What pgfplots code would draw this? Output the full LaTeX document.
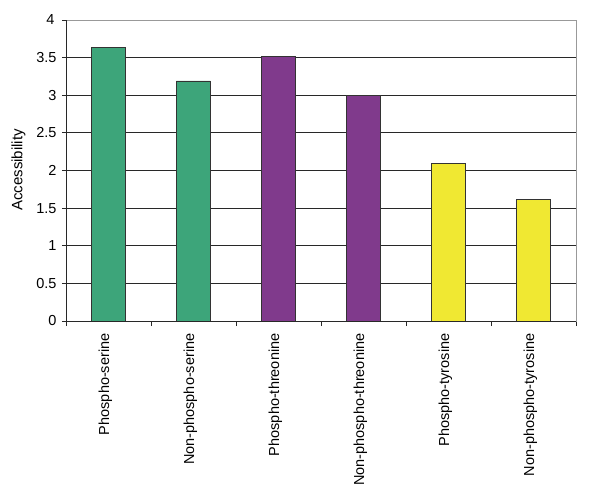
\documentclass[border=0pt]{standalone}
\usepackage{pgfplots}
\pgfplotsset{compat=1.18}
\usepackage{fontspec}
\setmainfont{Liberation Sans}
\definecolor{cgreen}{RGB}{61,165,122}
\definecolor{cpurple}{RGB}{128,58,140}
\definecolor{cyellow}{RGB}{240,232,50}
\definecolor{gridc}{RGB}{40,40,40}
\begin{document}
\begin{tikzpicture}[x=1pt,y=1pt]
\begin{axis}[
  at={(0pt,0pt)}, anchor=south west,
  scale only axis, width=510pt, height=301pt,
  xmin=-0.5, xmax=5.5, ymin=0, ymax=4,
  xtick={0,1,2,3,4,5},
  xticklabels={Phospho-serine,Non-phospho-serine,Phospho-threonine,Non-phospho-threonine,Phospho-tyrosine,Non-phospho-tyrosine},
  minor xtick={-0.5,0.5,1.5,2.5,3.5,4.5,5.5},
  major x tick style={draw=none},
  minor x tick style={draw=gridc, line width=0.8pt},
  minor tick length=5pt,
  major tick length=4pt,
  tick align=outside,
  xtick pos=bottom, ytick pos=left,
  ytick={0,0.5,...,3.5},
  yticklabels={0,0.5,1,1.5,2,2.5,3,3.5},
  extra y ticks={4},
  extra y tick labels={4},
  extra y tick style={grid=none, yticklabel style={font=\fontsize{14.5}{16}\selectfont, xshift=-2pt}},
  ymajorgrids,
  major grid style={draw=gridc, line width=0.9pt},
  y tick style={draw=gridc, line width=0.8pt},
  axis line style={draw=black!40, line width=0.9pt},
  ticklabel style={font=\fontsize{14.5}{16}\selectfont},
  yticklabel style={xshift=-2pt},
  xticklabel style={rotate=90, anchor=east, xshift=-5pt, yshift=3pt},
  ylabel={Accessibility},
  ylabel style={font=\fontsize{15}{17}\selectfont, at={(-37pt,151pt)}, anchor=south},
  ybar, bar width=34pt,
  every axis plot/.append style={draw=black!80, line width=0.8pt, bar shift=0pt},
]
\addplot[fill=cgreen] coordinates {(0,3.63) (1,3.19)};
\addplot[fill=cpurple] coordinates {(2,3.52) (3,3.0)};
\addplot[fill=cyellow] coordinates {(4,2.09) (5,1.62)};
\draw[draw=gridc, line width=0.9pt] (axis cs:-0.5,4) -- (axis cs:-0.5,0) -- (axis cs:5.5,0);
\end{axis}
\pgfresetboundingbox
\path (-66pt,-174pt) rectangle (534pt,321pt);
\end{tikzpicture}
\end{document}
